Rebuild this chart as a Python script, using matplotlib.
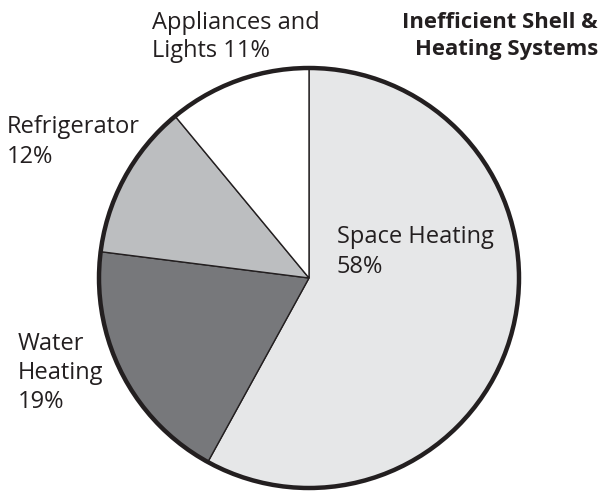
import matplotlib
matplotlib.use("Agg")
import matplotlib.pyplot as plt
from matplotlib.patches import Circle

categories = ["Space Heating", "Water Heating", "Refrigerator", "Appliances and Lights"]
shares = [58, 19, 12, 11]
label_texts = ["Space Heating\n58%", "Water\nHeating\n19%", "Refrigerator\n12%", "Appliances and\nLights 11%"]
title_text = "Inefficient Shell &\nHeating Systems"

colors = ["#e6e7e8", "#77787b", "#bcbec0", "#ffffff"]
edge = "#231f20"

plt.rcParams['font.family'] = ['Open Sans', 'DejaVu Sans']

W, H = 615, 491
fig = plt.figure(figsize=(W / 100, H / 100), dpi=100)
ax = fig.add_axes([0, 0, 1, 1])

cx, cy, r = 309, H - 278, 210
ax.pie(shares, colors=colors, startangle=90, counterclock=False,
       center=(cx, cy), radius=r, frame=True,
       wedgeprops=dict(edgecolor=edge, linewidth=1.0))
ax.set_xlim(0, W)
ax.set_ylim(0, H)
ax.set_aspect('equal')
ax.axis('off')
ax.add_patch(Circle((cx, cy), r, fill=False, edgecolor=edge, linewidth=3.2, zorder=5))

fs = 17
# label positions (left x, top y in image pixels, line spacing)
pos = [(337, 225, 1.36), (18, 332, 1.28), (7, 115, 1.36), (152, 11, 1.22)]
for t, (x, y, ls) in zip(label_texts, pos):
    ax.text(x, H - y, t, ha='left', va='top', fontsize=fs, color='#231f20', linespacing=ls)

ax.text(598, H - 12, title_text, ha='right', va='top', fontsize=15.8, fontweight='bold',
        color='#231f20', linespacing=1.36)

fig.savefig("out.png", dpi=100)
